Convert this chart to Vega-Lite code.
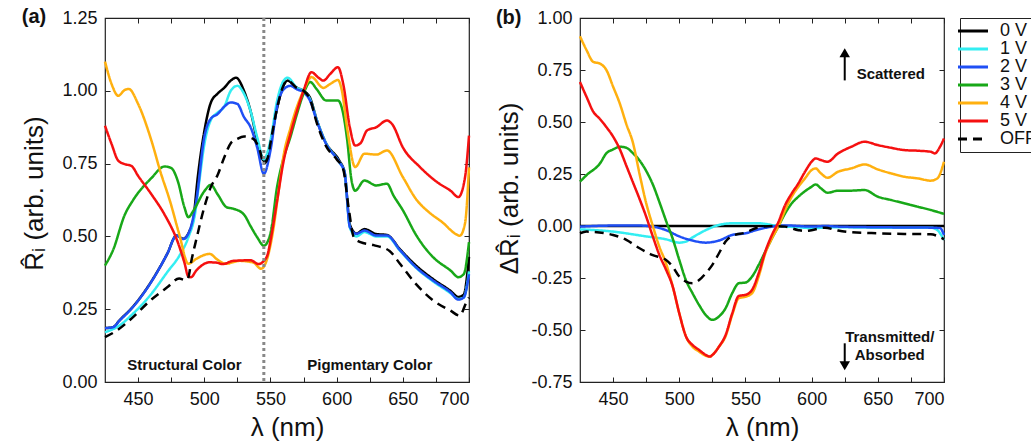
{
  "$schema": "https://vega.github.io/schema/vega-lite/v6.json",
  "padding": {"left": 21, "top": 6, "right": 0, "bottom": 0},
  "spacing": 20,
  "config": {
    "font": "Liberation Sans",
    "view": {"stroke": "#222222", "strokeWidth": 1.2},
    "axis": {"grid": false, "domain": false, "tickSize": 5, "tickColor": "#222222", "tickWidth": 1, "labelFontSize": 18, "labelColor": "#111111", "titleFontSize": 26, "titleFontWeight": "normal", "titleColor": "#111111", "labelPadding": 8},
    "legend": {"symbolType": "M-3,0H3", "symbolSize": 100, "symbolStrokeWidth": 3, "labelFontSize": 18, "labelColor": "#111111", "rowPadding": 0, "padding": 4, "strokeColor": "#222222", "labelOffset": 18, "offset": 10}
  },
  "datasets": {
    "a": [
      {"s":"0 V","x":425,"y":0.185},{"s":"0 V","x":431,"y":0.188},{"s":"0 V","x":436,"y":0.212},{"s":"0 V","x":446,"y":0.258},{"s":"0 V","x":459,"y":0.338},{"s":"0 V","x":472,"y":0.44},{"s":"0 V","x":479,"y":0.503},{"s":"0 V","x":484,"y":0.492},{"s":"0 V","x":489,"y":0.52},{"s":"0 V","x":492,"y":0.57},{"s":"0 V","x":495,"y":0.7},{"s":"0 V","x":500,"y":0.86},{"s":"0 V","x":505,"y":0.96},{"s":"0 V","x":510,"y":0.99},{"s":"0 V","x":515,"y":1.01},{"s":"0 V","x":520,"y":1.035},{"s":"0 V","x":524,"y":1.045},{"s":"0 V","x":530,"y":1.0},{"s":"0 V","x":535,"y":0.93},{"s":"0 V","x":540,"y":0.83},{"s":"0 V","x":545,"y":0.76},{"s":"0 V","x":548,"y":0.775},{"s":"0 V","x":550,"y":0.82},{"s":"0 V","x":555,"y":0.94},{"s":"0 V","x":560,"y":1.02},{"s":"0 V","x":563,"y":1.035},{"s":"0 V","x":570,"y":1.01},{"s":"0 V","x":575,"y":1.0},{"s":"0 V","x":580,"y":0.975},{"s":"0 V","x":585,"y":0.9},{"s":"0 V","x":592,"y":0.82},{"s":"0 V","x":602,"y":0.76},{"s":"0 V","x":606,"y":0.72},{"s":"0 V","x":610,"y":0.54},{"s":"0 V","x":615,"y":0.51},{"s":"0 V","x":621,"y":0.525},{"s":"0 V","x":630,"y":0.508},{"s":"0 V","x":638,"y":0.505},{"s":"0 V","x":648,"y":0.455},{"s":"0 V","x":660,"y":0.4},{"s":"0 V","x":673,"y":0.353},{"s":"0 V","x":686,"y":0.313},{"s":"0 V","x":692,"y":0.292},{"s":"0 V","x":696,"y":0.3},{"s":"0 V","x":700,"y":0.43},
      {"s":"1 V","x":425,"y":0.171},{"s":"1 V","x":436,"y":0.194},{"s":"1 V","x":446,"y":0.234},{"s":"1 V","x":459,"y":0.297},{"s":"1 V","x":472,"y":0.377},{"s":"1 V","x":482,"y":0.44},{"s":"1 V","x":488,"y":0.497},{"s":"1 V","x":493,"y":0.577},{"s":"1 V","x":496,"y":0.68},{"s":"1 V","x":500,"y":0.815},{"s":"1 V","x":505,"y":0.9},{"s":"1 V","x":510,"y":0.925},{"s":"1 V","x":515,"y":0.945},{"s":"1 V","x":520,"y":1.0},{"s":"1 V","x":525,"y":1.017},{"s":"1 V","x":530,"y":0.99},{"s":"1 V","x":535,"y":0.93},{"s":"1 V","x":540,"y":0.84},{"s":"1 V","x":545,"y":0.765},{"s":"1 V","x":550,"y":0.83},{"s":"1 V","x":555,"y":0.965},{"s":"1 V","x":560,"y":1.035},{"s":"1 V","x":563,"y":1.045},{"s":"1 V","x":570,"y":1.01},{"s":"1 V","x":575,"y":1.0},{"s":"1 V","x":580,"y":0.97},{"s":"1 V","x":585,"y":0.9},{"s":"1 V","x":592,"y":0.82},{"s":"1 V","x":602,"y":0.755},{"s":"1 V","x":606,"y":0.72},{"s":"1 V","x":610,"y":0.53},{"s":"1 V","x":615,"y":0.5},{"s":"1 V","x":621,"y":0.515},{"s":"1 V","x":630,"y":0.5},{"s":"1 V","x":638,"y":0.5},{"s":"1 V","x":648,"y":0.45},{"s":"1 V","x":660,"y":0.392},{"s":"1 V","x":673,"y":0.345},{"s":"1 V","x":686,"y":0.305},{"s":"1 V","x":692,"y":0.285},{"s":"1 V","x":696,"y":0.29},{"s":"1 V","x":700,"y":0.38},
      {"s":"2 V","x":425,"y":0.185},{"s":"2 V","x":431,"y":0.188},{"s":"2 V","x":436,"y":0.211},{"s":"2 V","x":446,"y":0.257},{"s":"2 V","x":459,"y":0.337},{"s":"2 V","x":472,"y":0.44},{"s":"2 V","x":479,"y":0.503},{"s":"2 V","x":484,"y":0.491},{"s":"2 V","x":489,"y":0.52},{"s":"2 V","x":494,"y":0.623},{"s":"2 V","x":500,"y":0.84},{"s":"2 V","x":505,"y":0.905},{"s":"2 V","x":510,"y":0.92},{"s":"2 V","x":515,"y":0.945},{"s":"2 V","x":520,"y":0.96},{"s":"2 V","x":525,"y":0.955},{"s":"2 V","x":530,"y":0.91},{"s":"2 V","x":535,"y":0.875},{"s":"2 V","x":540,"y":0.805},{"s":"2 V","x":545,"y":0.715},{"s":"2 V","x":550,"y":0.795},{"s":"2 V","x":555,"y":0.945},{"s":"2 V","x":560,"y":1.005},{"s":"2 V","x":565,"y":1.017},{"s":"2 V","x":570,"y":1.005},{"s":"2 V","x":575,"y":0.995},{"s":"2 V","x":580,"y":0.965},{"s":"2 V","x":585,"y":0.897},{"s":"2 V","x":592,"y":0.818},{"s":"2 V","x":602,"y":0.755},{"s":"2 V","x":606,"y":0.72},{"s":"2 V","x":610,"y":0.532},{"s":"2 V","x":615,"y":0.509},{"s":"2 V","x":621,"y":0.52},{"s":"2 V","x":630,"y":0.503},{"s":"2 V","x":638,"y":0.503},{"s":"2 V","x":648,"y":0.452},{"s":"2 V","x":660,"y":0.394},{"s":"2 V","x":673,"y":0.348},{"s":"2 V","x":686,"y":0.308},{"s":"2 V","x":692,"y":0.283},{"s":"2 V","x":696,"y":0.29},{"s":"2 V","x":700,"y":0.37},
      {"s":"3 V","x":425,"y":0.4},{"s":"3 V","x":431,"y":0.452},{"s":"3 V","x":440,"y":0.575},{"s":"3 V","x":446,"y":0.623},{"s":"3 V","x":460,"y":0.7},{"s":"3 V","x":470,"y":0.74},{"s":"3 V","x":475,"y":0.735},{"s":"3 V","x":480,"y":0.69},{"s":"3 V","x":485,"y":0.6},{"s":"3 V","x":488,"y":0.566},{"s":"3 V","x":492,"y":0.59},{"s":"3 V","x":500,"y":0.655},{"s":"3 V","x":505,"y":0.677},{"s":"3 V","x":510,"y":0.645},{"s":"3 V","x":517,"y":0.6},{"s":"3 V","x":522,"y":0.595},{"s":"3 V","x":530,"y":0.575},{"s":"3 V","x":535,"y":0.535},{"s":"3 V","x":540,"y":0.497},{"s":"3 V","x":545,"y":0.468},{"s":"3 V","x":550,"y":0.51},{"s":"3 V","x":555,"y":0.67},{"s":"3 V","x":560,"y":0.77},{"s":"3 V","x":565,"y":0.84},{"s":"3 V","x":570,"y":0.92},{"s":"3 V","x":575,"y":0.99},{"s":"3 V","x":580,"y":1.03},{"s":"3 V","x":585,"y":1.005},{"s":"3 V","x":592,"y":0.967},{"s":"3 V","x":601,"y":0.967},{"s":"3 V","x":604,"y":0.94},{"s":"3 V","x":608,"y":0.83},{"s":"3 V","x":611,"y":0.7},{"s":"3 V","x":614,"y":0.657},{"s":"3 V","x":621,"y":0.692},{"s":"3 V","x":630,"y":0.675},{"s":"3 V","x":638,"y":0.681},{"s":"3 V","x":643,"y":0.64},{"s":"3 V","x":650,"y":0.59},{"s":"3 V","x":660,"y":0.505},{"s":"3 V","x":673,"y":0.428},{"s":"3 V","x":686,"y":0.383},{"s":"3 V","x":692,"y":0.36},{"s":"3 V","x":696,"y":0.37},{"s":"3 V","x":700,"y":0.48},
      {"s":"4 V","x":425,"y":1.1},{"s":"4 V","x":430,"y":1.023},{"s":"4 V","x":435,"y":0.983},{"s":"4 V","x":440,"y":1.003},{"s":"4 V","x":443,"y":1.006},{"s":"4 V","x":450,"y":0.955},{"s":"4 V","x":460,"y":0.83},{"s":"4 V","x":467,"y":0.72},{"s":"4 V","x":474,"y":0.623},{"s":"4 V","x":481,"y":0.509},{"s":"4 V","x":488,"y":0.406},{"s":"4 V","x":494,"y":0.423},{"s":"4 V","x":504,"y":0.44},{"s":"4 V","x":510,"y":0.42},{"s":"4 V","x":516,"y":0.406},{"s":"4 V","x":527,"y":0.416},{"s":"4 V","x":537,"y":0.41},{"s":"4 V","x":543,"y":0.389},{"s":"4 V","x":547,"y":0.416},{"s":"4 V","x":552,"y":0.52},{"s":"4 V","x":556,"y":0.65},{"s":"4 V","x":560,"y":0.78},{"s":"4 V","x":565,"y":0.87},{"s":"4 V","x":570,"y":0.945},{"s":"4 V","x":575,"y":1.0},{"s":"4 V","x":581,"y":1.047},{"s":"4 V","x":590,"y":1.01},{"s":"4 V","x":595,"y":1.023},{"s":"4 V","x":601,"y":1.037},{"s":"4 V","x":604,"y":1.0},{"s":"4 V","x":608,"y":0.87},{"s":"4 V","x":614,"y":0.738},{"s":"4 V","x":621,"y":0.784},{"s":"4 V","x":630,"y":0.781},{"s":"4 V","x":638,"y":0.795},{"s":"4 V","x":650,"y":0.704},{"s":"4 V","x":660,"y":0.628},{"s":"4 V","x":670,"y":0.582},{"s":"4 V","x":680,"y":0.548},{"s":"4 V","x":690,"y":0.508},{"s":"4 V","x":693,"y":0.502},{"s":"4 V","x":697,"y":0.545},{"s":"4 V","x":700,"y":0.737},
      {"s":"5 V","x":425,"y":0.88},{"s":"5 V","x":430,"y":0.817},{"s":"5 V","x":435,"y":0.76},{"s":"5 V","x":440,"y":0.748},{"s":"5 V","x":445,"y":0.742},{"s":"5 V","x":450,"y":0.708},{"s":"5 V","x":460,"y":0.645},{"s":"5 V","x":470,"y":0.575},{"s":"5 V","x":480,"y":0.48},{"s":"5 V","x":485,"y":0.41},{"s":"5 V","x":488,"y":0.362},{"s":"5 V","x":490,"y":0.36},{"s":"5 V","x":494,"y":0.383},{"s":"5 V","x":504,"y":0.411},{"s":"5 V","x":509,"y":0.41},{"s":"5 V","x":514,"y":0.405},{"s":"5 V","x":522,"y":0.416},{"s":"5 V","x":535,"y":0.418},{"s":"5 V","x":541,"y":0.405},{"s":"5 V","x":545,"y":0.416},{"s":"5 V","x":548,"y":0.44},{"s":"5 V","x":550,"y":0.485},{"s":"5 V","x":555,"y":0.622},{"s":"5 V","x":560,"y":0.76},{"s":"5 V","x":565,"y":0.85},{"s":"5 V","x":570,"y":0.93},{"s":"5 V","x":575,"y":1.0},{"s":"5 V","x":581,"y":1.064},{"s":"5 V","x":586,"y":1.046},{"s":"5 V","x":590,"y":1.035},{"s":"5 V","x":595,"y":1.057},{"s":"5 V","x":601,"y":1.081},{"s":"5 V","x":605,"y":1.023},{"s":"5 V","x":610,"y":0.874},{"s":"5 V","x":614,"y":0.812},{"s":"5 V","x":618,"y":0.82},{"s":"5 V","x":623,"y":0.864},{"s":"5 V","x":630,"y":0.875},{"s":"5 V","x":638,"y":0.898},{"s":"5 V","x":642,"y":0.885},{"s":"5 V","x":650,"y":0.806},{"s":"5 V","x":663,"y":0.738},{"s":"5 V","x":676,"y":0.686},{"s":"5 V","x":686,"y":0.657},{"s":"5 V","x":692,"y":0.635},{"s":"5 V","x":697,"y":0.703},{"s":"5 V","x":700,"y":0.846},
      {"s":"OFF","x":425,"y":0.154},{"s":"OFF","x":434,"y":0.177},{"s":"OFF","x":446,"y":0.222},{"s":"OFF","x":459,"y":0.279},{"s":"OFF","x":472,"y":0.325},{"s":"OFF","x":481,"y":0.355},{"s":"OFF","x":486,"y":0.35},{"s":"OFF","x":488,"y":0.36},{"s":"OFF","x":490,"y":0.41},{"s":"OFF","x":494,"y":0.49},{"s":"OFF","x":500,"y":0.6},{"s":"OFF","x":505,"y":0.67},{"s":"OFF","x":510,"y":0.71},{"s":"OFF","x":515,"y":0.77},{"s":"OFF","x":520,"y":0.82},{"s":"OFF","x":525,"y":0.835},{"s":"OFF","x":530,"y":0.843},{"s":"OFF","x":537,"y":0.835},{"s":"OFF","x":542,"y":0.795},{"s":"OFF","x":545,"y":0.75},{"s":"OFF","x":548,"y":0.77},{"s":"OFF","x":550,"y":0.82},{"s":"OFF","x":555,"y":0.94},{"s":"OFF","x":560,"y":1.02},{"s":"OFF","x":563,"y":1.035},{"s":"OFF","x":570,"y":1.01},{"s":"OFF","x":575,"y":1.0},{"s":"OFF","x":580,"y":0.97},{"s":"OFF","x":585,"y":0.89},{"s":"OFF","x":592,"y":0.81},{"s":"OFF","x":600,"y":0.765},{"s":"OFF","x":605,"y":0.73},{"s":"OFF","x":609,"y":0.6},{"s":"OFF","x":613,"y":0.497},{"s":"OFF","x":618,"y":0.48},{"s":"OFF","x":628,"y":0.47},{"s":"OFF","x":640,"y":0.45},{"s":"OFF","x":648,"y":0.405},{"s":"OFF","x":660,"y":0.336},{"s":"OFF","x":673,"y":0.28},{"s":"OFF","x":686,"y":0.245},{"s":"OFF","x":693,"y":0.228},{"s":"OFF","x":698,"y":0.274},{"s":"OFF","x":700,"y":0.29}
    ],
    "b": [
      {"s":"0 V","x":425,"y":0},{"s":"0 V","x":700,"y":0},
      {"s":"1 V","x":425,"y":-0.016},{"s":"1 V","x":450,"y":-0.027},{"s":"1 V","x":475,"y":-0.05},{"s":"1 V","x":490,"y":-0.064},{"s":"1 V","x":500,"y":-0.08},{"s":"1 V","x":505,"y":-0.075},{"s":"1 V","x":510,"y":-0.055},{"s":"1 V","x":520,"y":-0.02},{"s":"1 V","x":530,"y":0.005},{"s":"1 V","x":540,"y":0.013},{"s":"1 V","x":550,"y":0.013},{"s":"1 V","x":560,"y":0.013},{"s":"1 V","x":575,"y":0},{"s":"1 V","x":590,"y":-0.006},{"s":"1 V","x":600,"y":-0.01},{"s":"1 V","x":620,"y":-0.006},{"s":"1 V","x":650,"y":-0.008},{"s":"1 V","x":690,"y":-0.008},{"s":"1 V","x":695,"y":-0.02},{"s":"1 V","x":700,"y":-0.067},
      {"s":"2 V","x":425,"y":-0.003},{"s":"2 V","x":450,"y":0.002},{"s":"2 V","x":470,"y":0.002},{"s":"2 V","x":480,"y":-0.003},{"s":"2 V","x":490,"y":-0.02},{"s":"2 V","x":500,"y":-0.05},{"s":"2 V","x":510,"y":-0.07},{"s":"2 V","x":520,"y":-0.08},{"s":"2 V","x":530,"y":-0.07},{"s":"2 V","x":540,"y":-0.043},{"s":"2 V","x":550,"y":-0.035},{"s":"2 V","x":560,"y":-0.016},{"s":"2 V","x":570,"y":-0.003},{"s":"2 V","x":580,"y":0.003},{"s":"2 V","x":590,"y":0},{"s":"2 V","x":600,"y":-0.003},{"s":"2 V","x":610,"y":0},{"s":"2 V","x":620,"y":-0.003},{"s":"2 V","x":650,"y":-0.006},{"s":"2 V","x":690,"y":-0.008},{"s":"2 V","x":697,"y":-0.01},{"s":"2 V","x":700,"y":-0.043},
      {"s":"3 V","x":425,"y":0.213},{"s":"3 V","x":430,"y":0.245},{"s":"3 V","x":440,"y":0.3},{"s":"3 V","x":445,"y":0.35},{"s":"3 V","x":450,"y":0.368},{"s":"3 V","x":455,"y":0.381},{"s":"3 V","x":460,"y":0.376},{"s":"3 V","x":465,"y":0.35},{"s":"3 V","x":470,"y":0.315},{"s":"3 V","x":475,"y":0.265},{"s":"3 V","x":480,"y":0.2},{"s":"3 V","x":485,"y":0.115},{"s":"3 V","x":490,"y":0.025},{"s":"3 V","x":495,"y":-0.06},{"s":"3 V","x":500,"y":-0.163},{"s":"3 V","x":505,"y":-0.26},{"s":"3 V","x":510,"y":-0.323},{"s":"3 V","x":515,"y":-0.38},{"s":"3 V","x":520,"y":-0.428},{"s":"3 V","x":525,"y":-0.451},{"s":"3 V","x":530,"y":-0.435},{"s":"3 V","x":535,"y":-0.395},{"s":"3 V","x":540,"y":-0.323},{"s":"3 V","x":545,"y":-0.275},{"s":"3 V","x":550,"y":-0.272},{"s":"3 V","x":555,"y":-0.243},{"s":"3 V","x":560,"y":-0.187},{"s":"3 V","x":565,"y":-0.123},{"s":"3 V","x":570,"y":-0.059},{"s":"3 V","x":575,"y":0},{"s":"3 V","x":580,"y":0.061},{"s":"3 V","x":585,"y":0.109},{"s":"3 V","x":590,"y":0.141},{"s":"3 V","x":600,"y":0.189},{"s":"3 V","x":603,"y":0.2},{"s":"3 V","x":607,"y":0.181},{"s":"3 V","x":612,"y":0.16},{"s":"3 V","x":620,"y":0.17},{"s":"3 V","x":630,"y":0.17},{"s":"3 V","x":640,"y":0.173},{"s":"3 V","x":650,"y":0.141},{"s":"3 V","x":660,"y":0.125},{"s":"3 V","x":670,"y":0.109},{"s":"3 V","x":680,"y":0.093},{"s":"3 V","x":690,"y":0.077},{"s":"3 V","x":700,"y":0.058},
      {"s":"4 V","x":425,"y":0.912},{"s":"4 V","x":430,"y":0.845},{"s":"4 V","x":435,"y":0.789},{"s":"4 V","x":440,"y":0.781},{"s":"4 V","x":445,"y":0.749},{"s":"4 V","x":450,"y":0.67},{"s":"4 V","x":455,"y":0.59},{"s":"4 V","x":460,"y":0.49},{"s":"4 V","x":465,"y":0.4},{"s":"4 V","x":470,"y":0.25},{"s":"4 V","x":475,"y":0.11},{"s":"4 V","x":480,"y":0.0},{"s":"4 V","x":485,"y":-0.1},{"s":"4 V","x":490,"y":-0.18},{"s":"4 V","x":495,"y":-0.29},{"s":"4 V","x":500,"y":-0.42},{"s":"4 V","x":505,"y":-0.53},{"s":"4 V","x":510,"y":-0.58},{"s":"4 V","x":515,"y":-0.604},{"s":"4 V","x":520,"y":-0.624},{"s":"4 V","x":523,"y":-0.628},{"s":"4 V","x":525,"y":-0.62},{"s":"4 V","x":530,"y":-0.58},{"s":"4 V","x":535,"y":-0.53},{"s":"4 V","x":540,"y":-0.427},{"s":"4 V","x":545,"y":-0.347},{"s":"4 V","x":550,"y":-0.34},{"s":"4 V","x":555,"y":-0.323},{"s":"4 V","x":560,"y":-0.243},{"s":"4 V","x":565,"y":-0.131},{"s":"4 V","x":570,"y":-0.059},{"s":"4 V","x":575,"y":0},{"s":"4 V","x":580,"y":0.077},{"s":"4 V","x":585,"y":0.141},{"s":"4 V","x":590,"y":0.189},{"s":"4 V","x":595,"y":0.229},{"s":"4 V","x":600,"y":0.269},{"s":"4 V","x":603,"y":0.277},{"s":"4 V","x":607,"y":0.253},{"s":"4 V","x":612,"y":0.232},{"s":"4 V","x":620,"y":0.261},{"s":"4 V","x":630,"y":0.277},{"s":"4 V","x":640,"y":0.296},{"s":"4 V","x":650,"y":0.272},{"s":"4 V","x":660,"y":0.253},{"s":"4 V","x":670,"y":0.237},{"s":"4 V","x":680,"y":0.229},{"s":"4 V","x":690,"y":0.218},{"s":"4 V","x":695,"y":0.229},{"s":"4 V","x":700,"y":0.309},
      {"s":"5 V","x":425,"y":0.692},{"s":"5 V","x":430,"y":0.62},{"s":"5 V","x":435,"y":0.55},{"s":"5 V","x":440,"y":0.515},{"s":"5 V","x":445,"y":0.475},{"s":"5 V","x":450,"y":0.43},{"s":"5 V","x":455,"y":0.37},{"s":"5 V","x":460,"y":0.29},{"s":"5 V","x":465,"y":0.21},{"s":"5 V","x":470,"y":0.13},{"s":"5 V","x":475,"y":0.045},{"s":"5 V","x":480,"y":-0.05},{"s":"5 V","x":485,"y":-0.14},{"s":"5 V","x":490,"y":-0.21},{"s":"5 V","x":495,"y":-0.29},{"s":"5 V","x":500,"y":-0.42},{"s":"5 V","x":505,"y":-0.53},{"s":"5 V","x":510,"y":-0.572},{"s":"5 V","x":515,"y":-0.596},{"s":"5 V","x":520,"y":-0.62},{"s":"5 V","x":523,"y":-0.628},{"s":"5 V","x":525,"y":-0.62},{"s":"5 V","x":530,"y":-0.58},{"s":"5 V","x":535,"y":-0.524},{"s":"5 V","x":540,"y":-0.42},{"s":"5 V","x":545,"y":-0.336},{"s":"5 V","x":550,"y":-0.331},{"s":"5 V","x":555,"y":-0.307},{"s":"5 V","x":560,"y":-0.227},{"s":"5 V","x":565,"y":-0.123},{"s":"5 V","x":570,"y":-0.043},{"s":"5 V","x":575,"y":0.021},{"s":"5 V","x":580,"y":0.101},{"s":"5 V","x":585,"y":0.157},{"s":"5 V","x":590,"y":0.205},{"s":"5 V","x":595,"y":0.261},{"s":"5 V","x":600,"y":0.309},{"s":"5 V","x":603,"y":0.325},{"s":"5 V","x":607,"y":0.317},{"s":"5 V","x":612,"y":0.309},{"s":"5 V","x":620,"y":0.349},{"s":"5 V","x":630,"y":0.381},{"s":"5 V","x":640,"y":0.405},{"s":"5 V","x":650,"y":0.389},{"s":"5 V","x":660,"y":0.376},{"s":"5 V","x":670,"y":0.365},{"s":"5 V","x":680,"y":0.362},{"s":"5 V","x":690,"y":0.357},{"s":"5 V","x":693,"y":0.349},{"s":"5 V","x":697,"y":0.381},{"s":"5 V","x":700,"y":0.421},
      {"s":"OFF","x":425,"y":-0.035},{"s":"OFF","x":430,"y":-0.027},{"s":"OFF","x":450,"y":-0.043},{"s":"OFF","x":460,"y":-0.067},{"s":"OFF","x":470,"y":-0.107},{"s":"OFF","x":480,"y":-0.14},{"s":"OFF","x":490,"y":-0.163},{"s":"OFF","x":495,"y":-0.195},{"s":"OFF","x":500,"y":-0.243},{"s":"OFF","x":505,"y":-0.267},{"s":"OFF","x":510,"y":-0.275},{"s":"OFF","x":515,"y":-0.26},{"s":"OFF","x":520,"y":-0.227},{"s":"OFF","x":525,"y":-0.187},{"s":"OFF","x":530,"y":-0.131},{"s":"OFF","x":535,"y":-0.075},{"s":"OFF","x":540,"y":-0.048},{"s":"OFF","x":550,"y":-0.032},{"s":"OFF","x":560,"y":-0.006},{"s":"OFF","x":570,"y":0},{"s":"OFF","x":580,"y":-0.003},{"s":"OFF","x":590,"y":-0.02},{"s":"OFF","x":595,"y":-0.024},{"s":"OFF","x":600,"y":-0.02},{"s":"OFF","x":610,"y":-0.008},{"s":"OFF","x":620,"y":-0.022},{"s":"OFF","x":630,"y":-0.03},{"s":"OFF","x":650,"y":-0.035},{"s":"OFF","x":670,"y":-0.038},{"s":"OFF","x":690,"y":-0.04},{"s":"OFF","x":695,"y":-0.048},{"s":"OFF","x":700,"y":-0.064}
    ]
  },
  "hconcat": [
    {
      "width": 364,
      "height": 364,
      "resolve": {"axis": {"x": "independent", "y": "independent"}},
      "layer": [
        {
          "data": {"name": "a"},
          "mark": {"type": "line", "strokeWidth": 2.5, "interpolate": "monotone"},
          "encoding": {
            "x": {"field": "x", "type": "quantitative", "scale": {"domain": [425, 700], "nice": false, "zero": false},
                  "axis": {"orient": "bottom", "ticks": false, "values": [450, 500, 550, 600, 650, 700], "title": "λ (nm)", "titlePadding": 6}},
            "y": {"field": "y", "type": "quantitative", "scale": {"domain": [0, 1.25], "nice": false},
                  "axis": {"orient": "left", "ticks": false, "values": [0, 0.25, 0.5, 0.75, 1, 1.25], "format": ".2f", "title": "R̂ᵢ (arb. units)", "titlePadding": 14, "titleY": 175}},
            "color": {"field": "s", "type": "nominal", "scale": {"domain": ["0 V", "1 V", "2 V", "3 V", "4 V", "5 V", "OFF"], "range": ["#000000", "#33EEF2", "#1F4FF5", "#18A818", "#FFB00F", "#F51010", "#000000"]}, "legend": {"title": null}},
            "strokeDash": {"field": "s", "type": "nominal", "scale": {"domain": ["0 V", "1 V", "2 V", "3 V", "4 V", "5 V", "OFF"], "range": [[1, 0], [1, 0], [1, 0], [1, 0], [1, 0], [1, 0], [9, 6]]}, "legend": {"title": null}}
          }
        },
        {
          "data": {"values": [{"x": 545}]},
          "mark": {"type": "rule", "color": "#888888", "strokeWidth": 3, "strokeDash": [3, 3]},
          "encoding": {"x": {"field": "x", "type": "quantitative", "axis": null}}
        },
        {
          "data": {"values": [{"x": 485, "y": 0.06, "t": "Structural Color"}, {"x": 625, "y": 0.06, "t": "Pigmentary Color"}]},
          "mark": {"type": "text", "fontWeight": "bold", "fontSize": 15, "color": "#111111", "baseline": "middle"},
          "encoding": {
            "x": {"field": "x", "type": "quantitative", "axis": {"orient": "top", "offset": -364, "labels": false, "title": null, "values": [450, 475, 500, 525, 550, 575, 600, 625, 650, 675, 700]}},
            "y": {"field": "y", "type": "quantitative", "axis": {"orient": "right", "offset": -364, "labels": false, "title": null, "values": [0, 0.25, 0.5, 0.75, 1, 1.25]}},
            "text": {"field": "t"}
          }
        },
        {
          "data": {"values": [{"x": 371.4, "y": 1.252, "t": "(a)"}]},
          "mark": {"type": "text", "fontWeight": "bold", "fontSize": 20, "color": "#111111", "baseline": "middle"},
          "encoding": {
            "x": {"field": "x", "type": "quantitative", "axis": {"orient": "bottom", "offset": -364, "labels": false, "title": null, "values": [450, 475, 500, 525, 550, 575, 600, 625, 650, 675, 700]}},
            "y": {"field": "y", "type": "quantitative", "axis": {"orient": "left", "offset": -364, "labels": false, "title": null, "values": [0, 0.25, 0.5, 0.75, 1, 1.25]}},
            "text": {"field": "t"}
          }
        }
      ]
    },
    {
      "width": 364,
      "height": 364,
      "resolve": {"axis": {"x": "independent", "y": "independent"}},
      "layer": [
        {
          "data": {"name": "b"},
          "mark": {"type": "line", "strokeWidth": 2.5, "interpolate": "monotone"},
          "encoding": {
            "x": {"field": "x", "type": "quantitative", "scale": {"domain": [425, 700], "nice": false, "zero": false},
                  "axis": {"orient": "bottom", "ticks": false, "values": [450, 500, 550, 600, 650, 700], "title": "λ (nm)", "titlePadding": 6}},
            "y": {"field": "y", "type": "quantitative", "scale": {"domain": [-0.75, 1], "nice": false},
                  "axis": {"orient": "left", "ticks": false, "values": [-0.75, -0.5, -0.25, 0, 0.25, 0.5, 0.75, 1], "labelExpr": "(datum.value < 0 ? '-' : '') + format(abs(datum.value), '.2f')", "title": "ΔR̂ᵢ (arb. units)", "titlePadding": 8, "titleY": 170}},
            "color": {"field": "s", "type": "nominal", "scale": {"domain": ["0 V", "1 V", "2 V", "3 V", "4 V", "5 V", "OFF"], "range": ["#000000", "#33EEF2", "#1F4FF5", "#18A818", "#FFB00F", "#F51010", "#000000"]}, "legend": {"title": null}},
            "strokeDash": {"field": "s", "type": "nominal", "scale": {"domain": ["0 V", "1 V", "2 V", "3 V", "4 V", "5 V", "OFF"], "range": [[1, 0], [1, 0], [1, 0], [1, 0], [1, 0], [1, 0], [9, 6]]}, "legend": {"title": null}}
          }
        },
        {
          "data": {"values": [{"x": 625, "y": 0.70, "y2": 0.83}, {"x": 625, "y": -0.564, "y2": -0.672}]},
          "mark": {"type": "rule", "color": "#000000", "strokeWidth": 2},
          "encoding": {
            "x": {"field": "x", "type": "quantitative", "axis": null},
            "y": {"field": "y", "type": "quantitative", "axis": null},
            "y2": {"field": "y2"}
          }
        },
        {
          "data": {"values": [{"x": 625, "y": 0.833, "sh": "triangle-up"}, {"x": 625, "y": -0.672, "sh": "triangle-down"}]},
          "mark": {"type": "point", "filled": true, "color": "#000000", "size": 110, "opacity": 1},
          "encoding": {
            "x": {"field": "x", "type": "quantitative", "axis": null},
            "y": {"field": "y", "type": "quantitative", "axis": null},
            "shape": {"field": "sh", "type": "nominal", "scale": null, "legend": null}
          }
        },
        {
          "data": {"values": [{"x": 634, "y": 0.733, "t": "Scattered"}]},
          "mark": {"type": "text", "fontWeight": "bold", "fontSize": 15, "color": "#111111", "baseline": "middle", "align": "left"},
          "encoding": {
            "x": {"field": "x", "type": "quantitative", "axis": {"orient": "top", "offset": -364, "labels": false, "title": null, "values": [450, 475, 500, 525, 550, 575, 600, 625, 650, 675, 700]}},
            "y": {"field": "y", "type": "quantitative", "axis": {"orient": "right", "offset": -364, "labels": false, "title": null, "values": [-0.75, -0.5, -0.25, 0, 0.25, 0.5, 0.75, 1]}},
            "text": {"field": "t"}
          }
        },
        {
          "data": {"values": [{"x": 659, "y": -0.535, "t": "Transmitted/\nAbsorbed"}]},
          "mark": {"type": "text", "fontWeight": "bold", "fontSize": 15, "color": "#111111", "baseline": "middle", "align": "center", "lineBreak": "\n", "lineHeight": 17.4},
          "encoding": {
            "x": {"field": "x", "type": "quantitative", "axis": null},
            "y": {"field": "y", "type": "quantitative", "axis": null},
            "text": {"field": "t"}
          }
        },
        {
          "data": {"values": [{"x": 371.1, "y": 1.002, "t": "(b)"}]},
          "mark": {"type": "text", "fontWeight": "bold", "fontSize": 20, "color": "#111111", "baseline": "middle"},
          "encoding": {
            "x": {"field": "x", "type": "quantitative", "axis": {"orient": "bottom", "offset": -364, "labels": false, "title": null, "values": [450, 475, 500, 525, 550, 575, 600, 625, 650, 675, 700]}},
            "y": {"field": "y", "type": "quantitative", "axis": {"orient": "left", "offset": -364, "labels": false, "title": null, "values": [-0.75, -0.5, -0.25, 0, 0.25, 0.5, 0.75, 1]}},
            "text": {"field": "t"}
          }
        }
      ]
    }
  ]
}
